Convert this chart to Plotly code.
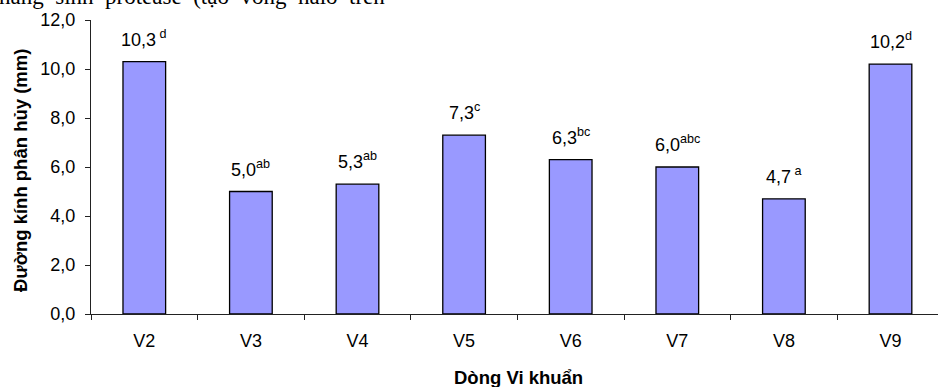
import plotly.graph_objects as go

# Data: halo diameter (mm) for each bacterial strain, with significance groups
strains = ["V2", "V3", "V4", "V5", "V6", "V7", "V8", "V9"]
diameters = [10.3, 5.0, 5.3, 7.3, 6.3, 6.0, 4.7, 10.2]
groups = ["\u00a0d", "ab", "ab", "c", "bc", "abc", "\u00a0a", "d"]
y_ticks = [0, 2, 4, 6, 8, 10, 12]

W, H = 938, 387
L, R, T, B = 91, 0, 20, 73
plot_w = W - L - R
plot_h = H - T - B

AXIS = "#222222"
FONT = "Liberation Sans, Arial, sans-serif"


def px_x(px):
    return (px - L) / plot_w


def px_y(px):
    return (H - B - px) / plot_h


fig = go.Figure()
fig.add_trace(go.Bar(
    x=strains,
    y=diameters,
    width=0.4,
    marker=dict(color="#9999FF", line=dict(color="#000000", width=1.3)),
    hoverinfo="skip",
))

annotations = []
# value labels with significance letters
for s, v, g in zip(strains, diameters, groups):
    label = f"{v:.1f}".replace(".", ",") + f"<sup>{g}</sup>"
    annotations.append(dict(
        x=s, y=v, xref="x", yref="y", text=label, showarrow=False,
        xanchor="center", yanchor="bottom", yshift=10,
        font=dict(family=FONT, size=18, color="#000000"),
    ))

# axis titles
annotations.append(dict(
    x=px_x(20), y=px_y(171), xref="paper", yref="paper",
    text="<b>Đường kính phân hủy (mm)</b>", textangle=-90, showarrow=False,
    xanchor="center", yanchor="middle",
    font=dict(family=FONT, size=18.5, color="#000000"),
))
annotations.append(dict(
    x=px_x(518), y=px_y(377), xref="paper", yref="paper",
    text="<b>Dòng Vi khuẩn</b>", showarrow=False,
    xanchor="center", yanchor="middle",
    font=dict(family=FONT, size=18.5, color="#000000"),
))

# line of document text running above the chart
sp = "\u00a0\u00a0"
annotations.append(dict(
    x=px_x(-3), y=1, xref="paper", yref="paper",
    text=sp.join(["năng", "sinh", "protease", "(tạo", "vòng", "halo", "trên"]),
    showarrow=False, xanchor="left", yanchor="bottom", yshift=9,
    font=dict(family="Liberation Serif, Times New Roman, serif", size=23, color="#000000"),
))

fig.update_layout(
    width=W, height=H,
    margin=dict(l=L, r=R, t=T, b=B, pad=0),
    paper_bgcolor="white", plot_bgcolor="white",
    separators=",.",
    showlegend=False,
    bargap=0.6,
    annotations=annotations,
    xaxis=dict(
        type="category",
        range=[-0.5, -0.5 + plot_w / 106.6],
        tickson="boundaries",
        ticks="outside", ticklen=5, tickwidth=1, tickcolor=AXIS,
        showline=True, linecolor=AXIS, linewidth=1,
        showgrid=False, zeroline=False,
        ticklabelstandoff=10,
        tickfont=dict(family=FONT, size=18, color="#000000"),
    ),
    yaxis=dict(
        range=[0, 12],
        tickvals=y_ticks,
        tickformat=".1f",
        ticks="outside", ticklen=5, tickwidth=1, tickcolor=AXIS,
        showline=True, linecolor=AXIS, linewidth=1,
        showgrid=False, zeroline=False,
        ticklabelstandoff=6,
        tickfont=dict(family=FONT, size=18, color="#000000"),
    ),
)

fig.write_html("out.html")
